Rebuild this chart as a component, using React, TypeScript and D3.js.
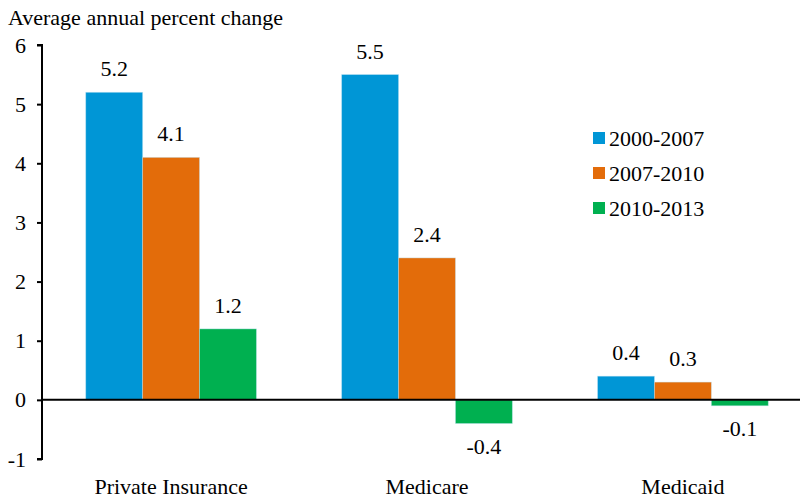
import React, { useRef, useEffect } from "react";
import * as d3 from "d3";

const categories = ["Private Insurance", "Medicare", "Medicaid"];
const periods = ["2000-2007", "2007-2010", "2010-2013"];
const values2000_2007 = [5.2, 5.5, 0.4];
const values2007_2010 = [4.1, 2.4, 0.3];
const values2010_2013 = [1.2, -0.4, -0.1];
const yTicks = [-1, 0, 1, 2, 3, 4, 5, 6];
const colors = ["#0096d6", "#e36c0a", "#00b050"];

const font = "'Liberation Serif', 'Times New Roman', serif";
const fs = 22;

const App = () => {
  const ref = useRef<SVGSVGElement>(null);

  useEffect(() => {
    if (!ref.current) return;
    const svg = d3.select(ref.current);
    svg.selectAll("*").remove();

    const series = [values2000_2007, values2007_2010, values2010_2013];

    const x = d3
      .scaleBand()
      .domain(categories)
      .range([43, 811])
      .paddingInner(0.333)
      .paddingOuter(0.167);
    const xs = d3.scaleBand().domain(periods).range([0, x.bandwidth()]);
    const y = d3.scaleLinear().domain([-1, 6]).range([459, 45]);

    const g = svg.append("g");

    // bars + value labels
    categories.forEach((c, ci) => {
      periods.forEach((p, pi) => {
        const v = series[pi][ci];
        const bx = (x(c) as number) + (xs(p) as number);
        g.append("rect")
          .attr("x", bx)
          .attr("y", y(Math.max(0, v)))
          .attr("width", xs.bandwidth())
          .attr("height", Math.abs(y(v) - y(0)))
          .attr("fill", colors[pi])
          .attr("stroke", "#bfe3f3")
          .attr("stroke-opacity", 0.5)
          .attr("stroke-width", 0.8);
        g.append("text")
          .attr("x", bx + xs.bandwidth() / 2)
          .attr("y", v >= 0 ? y(v) - 16 : y(v) + 30)
          .attr("text-anchor", "middle")
          .style("font-family", font)
          .style("font-size", fs + "px")
          .attr("fill", "#000")
          .text(v.toFixed(1));
      });
    });

    // zero line
    g.append("line")
      .attr("x1", 42)
      .attr("x2", 800)
      .attr("y1", y(0))
      .attr("y2", y(0))
      .attr("stroke", "#000")
      .attr("stroke-width", 2);

    // y axis
    const ax = g
      .append("g")
      .attr("transform", "translate(42,0)")
      .attr("font-family", font)
      .call(
        d3
          .axisLeft(y)
          .tickValues(yTicks)
          .tickSize(5)
          .tickPadding(11)
          .tickFormat((d) => String(d))
      );
    ax.select(".domain")
      .attr("stroke", "#000")
      .attr("stroke-width", 2)
      .attr("d", `M-5,${y(6)}H0V${y(-1)}H-5`);
    ax.selectAll(".tick line").attr("stroke", "#000").attr("stroke-width", 2);
    ax.selectAll(".tick text")
      .style("font-family", font)
      .style("font-size", fs + "px")
      .attr("fill", "#000");

    // category labels
    categories.forEach((c) => {
      g.append("text")
        .attr("x", (x(c) as number) + x.bandwidth() / 2)
        .attr("y", 494)
        .attr("text-anchor", "middle")
        .style("font-family", font)
        .style("font-size", fs + "px")
        .attr("fill", "#000")
        .text(c);
    });

    // title
    svg
      .append("text")
      .attr("x", 8)
      .attr("y", 25)
      .style("font-family", font)
      .style("font-size", fs + "px")
      .attr("fill", "#000")
      .text("Average annual percent change");

    // legend
    const lg = svg.append("g").attr("transform", "translate(593,132)");
    periods.forEach((p, i) => {
      lg.append("rect")
        .attr("x", 0)
        .attr("y", i * 35)
        .attr("width", 12)
        .attr("height", 12)
        .attr("fill", colors[i]);
      lg.append("text")
        .attr("x", 16)
        .attr("y", i * 35 + 14)
        .style("font-family", font)
        .style("font-size", fs + "px")
        .attr("fill", "#000")
        .text(p);
    });
  }, []);

  return (
    <svg
      ref={ref}
      width={805}
      height={499}
      style={{ position: "absolute", left: 0, top: 0, background: "#fff" }}
    />
  );
};

export default App;
